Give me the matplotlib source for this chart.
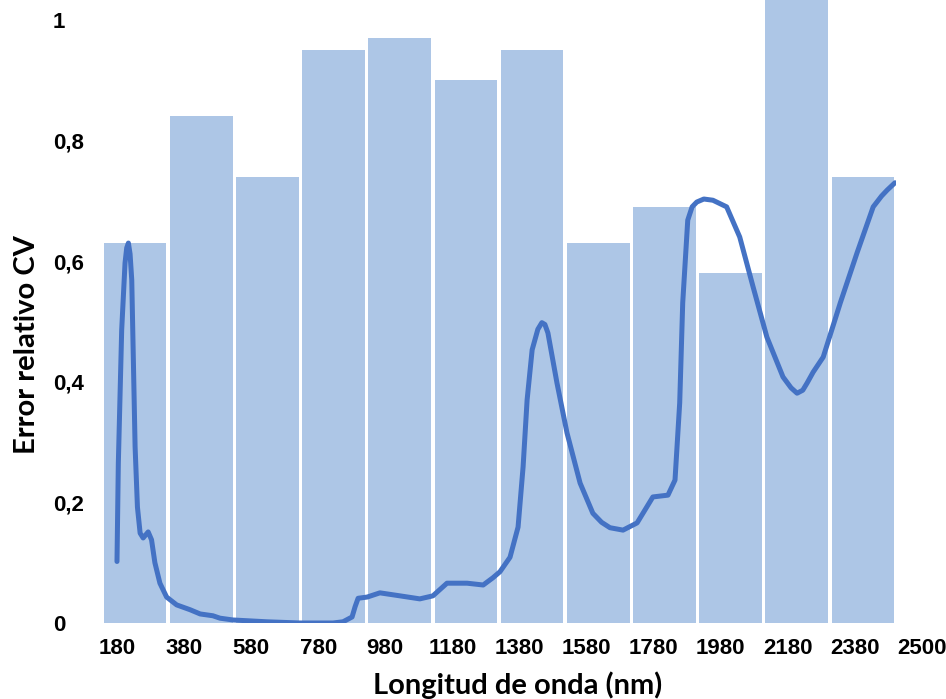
import numpy as np
import matplotlib
matplotlib.use("Agg")
import matplotlib.pyplot as plt
import matplotlib.transforms as mtransforms

# Relative CV error per 200 nm band (bars)
band_values = [0.63, 0.84, 0.74, 0.95, 0.97, 0.90, 0.95, 0.63, 0.69, 0.58, 1.10, 0.74]

# Relative CV error along the spectrum (line)
wavelength = [180, 184, 194, 204, 209, 214, 219, 224, 229, 234, 241, 249, 258, 273, 283,
              293, 308, 328, 358, 398, 428, 466, 487, 526, 627, 726, 824, 854, 881, 890,
              899, 926, 964, 1024, 1083, 1122, 1164, 1224, 1272, 1301, 1322, 1352,
              1376, 1391, 1403, 1418, 1435, 1447, 1456, 1465, 1492, 1522, 1561, 1599,
              1625, 1650, 1689, 1731, 1778, 1823, 1844, 1858, 1867, 1882, 1895, 1909,
              1930, 1957, 1998, 2037, 2077, 2118, 2166, 2190, 2208, 2225, 2238, 2256,
              2286, 2337, 2387, 2435, 2460, 2477, 2500]
cv_error = [0.102, 0.265, 0.486, 0.597, 0.622, 0.630, 0.612, 0.569, 0.431, 0.292, 0.192,
            0.149, 0.141, 0.151, 0.138, 0.100, 0.066, 0.043, 0.030, 0.022, 0.015, 0.012,
            0.008, 0.005, 0.002, 0.000, 0.000, 0.002, 0.010, 0.027, 0.041, 0.043,
            0.050, 0.045, 0.040, 0.045, 0.066, 0.066, 0.063, 0.075, 0.085, 0.109,
            0.159, 0.259, 0.370, 0.453, 0.487, 0.498, 0.495, 0.481, 0.398, 0.315,
            0.232, 0.182, 0.167, 0.158, 0.154, 0.166, 0.209, 0.212, 0.237, 0.365,
            0.531, 0.668, 0.690, 0.698, 0.703, 0.701, 0.690, 0.640, 0.557, 0.474,
            0.408, 0.390, 0.381, 0.386, 0.398, 0.416, 0.441, 0.531, 0.614, 0.690,
            0.708, 0.718, 0.730]

tick_nm = 180 + 200 * np.arange(13)
tick_labels = ["180", "380", "580", "780", "980", "1180", "1380", "1580",
               "1780", "1980", "2180", "2380", "2500"]
ytick_vals = [0, 0.2, 0.4, 0.6, 0.8, 1.0]
ytick_labels = ["0", "0,2", "0,4", "0,6", "0,8", "1"]

bar_color = "#ADC6E6"
line_color = "#4472C4"
tick_font = dict(family="Liberation Sans", fontweight="bold", fontsize=16)
title_font = dict(family="Lato", fontweight="bold", fontsize=21)

W, H = 946, 699
fig = plt.figure(figsize=(W / 100, H / 100), dpi=100)
ax = fig.add_axes([102 / W, 76 / H, 794 / W, 623 / H])

# bars on a category axis
idx = np.arange(len(band_values))
ax.bar(idx, band_values, width=0.947, color=bar_color, edgecolor="none")
ax.set_xlim(-0.5, len(band_values) - 0.5)
ax.set_ylim(0, 1.033)
ax.set_xticks([])
ax.set_yticks(ytick_vals)
ax.set_yticklabels(ytick_labels, **tick_font)
ax.tick_params(axis="y", length=0, pad=35.5)
for lbl in ax.get_yticklabels():
    lbl.set_horizontalalignment("left")
for s in ax.spines.values():
    s.set_visible(False)

# wavelength line on its own x axis
ax2 = ax.twiny()
ax2.plot(wavelength, cv_error, color=line_color, lw=3.6,
         solid_joinstyle="round", solid_capstyle="round")
ax2.set_xlim(135.3, 2503)
ax2.set_xticks([])
for s in ax2.spines.values():
    s.set_visible(False)

trans = mtransforms.blended_transform_factory(ax2.transData, ax2.transAxes)
for x, lab in zip(tick_nm, tick_labels):
    ax2.text(x, -25 / 623, lab, transform=trans, ha="center", va="center",
             clip_on=False, **tick_font)

fig.text(518 / W, 1 - 685 / H, "Longitud de onda (nm)", ha="center", va="center",
         **title_font)
fig.text(27 / W, 1 - 345 / H, "Error relativo CV", ha="center", va="center",
         rotation=90, **title_font)

fig.savefig("out.png", dpi=100)
